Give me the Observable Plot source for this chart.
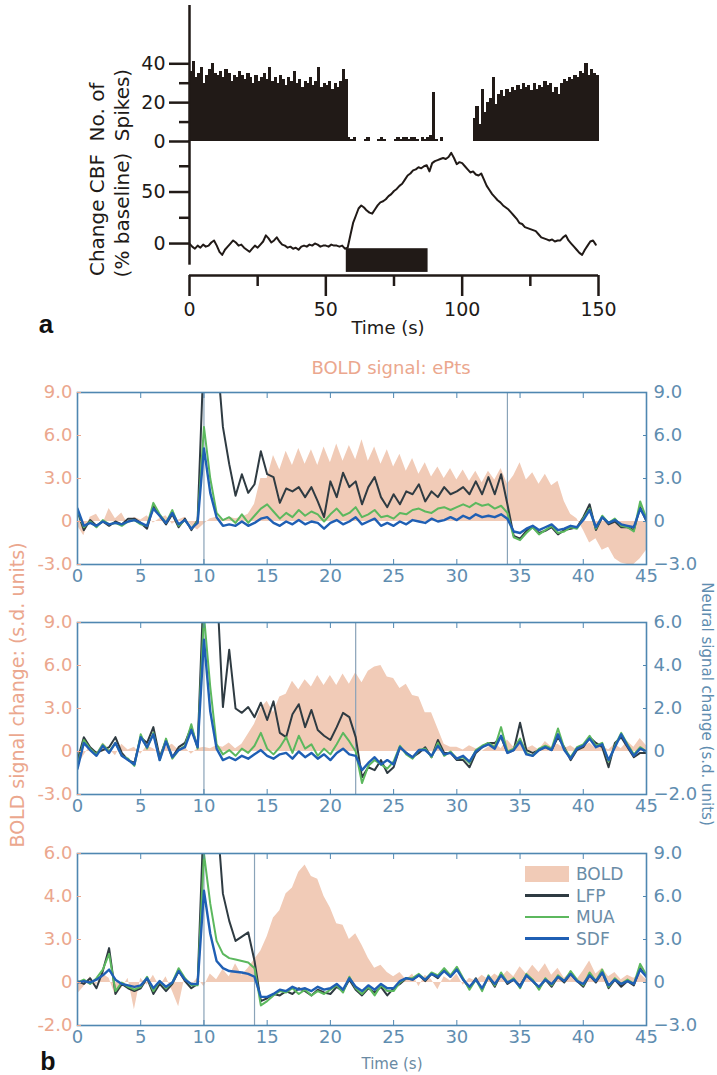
<!DOCTYPE html>
<html><head><meta charset="utf-8">
<script src="https://cdn.jsdelivr.net/npm/d3@7"></script>
<script src="https://cdn.jsdelivr.net/npm/@observablehq/plot@0.6"></script>
<style>
body{margin:0;background:#fff;}
#fig{position:relative;width:717px;height:1075px;overflow:hidden;font-family:"DejaVu Sans",sans-serif;background:#fff;}
.lbl{position:absolute;white-space:nowrap;line-height:1;}
</style></head><body><div id="fig"></div>
<script>
// ---------------- Panel a data ----------------
const spikeTimes0 = 0;            // first 1-s bin start (s)
const spikeCounts = [
36,41,33,35,38,30,34,37,40,35, 34,36,33,37,35,31,34,33,36,34,
32,35,33,30,34,31,33,35,32,38, 31,33,30,34,32,29,33,31,36,30,
32,28,31,30,33,29,31,38,28,30, 29,31,27,30,28,31,37,32,2,1,
2,0,0,0,1,2,0,0,0,1, 2,1,0,0,0,1,2,1,2,2,
1,2,2,1,0,2,1,2,3,25, 1,0,2,0,0,0,0,0,0,0,
0,0,0,0,12,18,9,27,15,20, 22,33,19,24,26,23,27,25,28,26,
29,27,30,28,29,26,30,27,29,28, 31,29,30,25,28,24,30,32,31,33,
32,34,33,36,35,40,34,37,35,34];
const cbf = [
0,-3,-5,-2,-4,-1,-3,-2,1,3, -2,-8,-11,-6,-3,0,3,1,-2,-1,
-4,-6,-8,-5,-2,-4,-1,2,8,5, 1,3,6,2,-1,-2,-4,-3,-5,-4,
-6,-3,-2,-3,-1,-2,0,-1,-3,-2, -2,-3,-1,-2,-2,-3,-2,-5,-4,8,
20,27,34,37,35,32,30,29,33,37, 40,41,43,46,48,51,53,56,58,62,
66,68,71,72,74,73,75,76,70,78, 80,81,82,83,82,84,88,83,77,79,
78,75,72,69,70,67,66,68,62,56, 52,48,45,42,40,37,35,33,30,27,
24,20,19,16,15,14,13,12,9,6, 5,4,3,4,2,3,3,6,8,3,
0,-3,-6,-9,-11,-6,-2,2,3,-1];
const stimulusA = [{start: 57.5, end: 87.5}];
const spikeTicks = [0, 20, 40], spikeMinor = [10, 30];
const cbfTicks = [0, 50], cbfMinor = [25, 75];
const timeTicksA = [0, 50, 100, 150], timeMinorA = [25, 75, 125];

// ---------------- Panel b data (0.5 s steps, 0..45 s) ----------------
const stepB = 0.5;
const bold1 = [
-0.3,-1.0,0.3,0.5,-0.2,0.9,0.2,0.6,-0.2,0.3,
0.1,0.4,-0.1,0.2,0.4,-0.2,0.1,0.3,-0.3,-0.6,
-0.2,0.2,0.3,0.1,0.3,0.2,0.3,0.5,1.2,3.0,
3.0,4.6,3.6,4.9,3.9,5.1,4.0,5.0,3.9,5.2,
4.1,5.4,4.2,5.3,4.3,5.7,4.2,5.2,4.0,5.0,
3.8,4.7,3.5,4.4,3.3,4.1,3.1,3.8,3.0,3.7,
2.9,3.6,2.8,3.5,2.7,3.5,2.9,3.7,2.6,3.2,
4.1,2.9,3.4,2.6,3.3,2.5,2.8,1.4,0.5,0.2,
-0.6,-1.5,-1.2,-2.0,-1.8,-2.6,-2.9,-3.0,-3.0,-2.6,
-2.0];
const lfp1 = [
0.7,-0.6,0.1,-0.3,0.0,-0.3,0.0,-0.2,0.2,0.2,
-0.1,-0.5,1.1,0.4,-0.2,0.5,-0.4,0.2,-0.6,0.1,
12,12,12,6.6,4.0,1.8,3.3,2.0,2.6,4.9,
3.3,3.1,1.3,2.3,2.1,2.4,1.7,2.4,1.4,0.3,
2.8,1.7,3.4,2.4,2.8,1.2,2.4,3.1,1.7,1.0,
1.9,1.2,2.1,1.9,2.6,1.4,2.1,1.7,2.4,1.9,
2.1,2.4,1.9,2.8,1.9,3.1,1.9,3.3,1.2,-1.0,
-1.2,-0.65,-0.4,-0.8,-0.65,-0.4,-0.9,-0.6,-0.5,-0.4,
0.3,1.2,-0.6,0.3,-0.2,0.0,-0.4,-0.4,-0.6,1.0,
0.0];
const mua1 = [
0.8,-0.4,0.0,-0.4,0.1,-0.2,-0.1,-0.3,0.0,0.1,
-0.2,-0.3,1.3,0.5,-0.1,0.8,-0.3,0.1,-0.5,0.0,
6.6,3.0,0.6,0.1,0.3,-0.1,0.5,-0.1,0.4,0.9,
1.2,0.7,0.2,0.6,0.3,0.8,0.4,0.7,0.5,0.0,
0.5,0.9,0.4,0.6,1.0,0.3,0.5,0.8,0.3,0.4,
0.2,0.6,0.5,0.8,0.9,0.7,0.6,0.9,1.0,0.8,
1.0,1.2,1.0,1.3,1.1,1.2,0.9,1.1,0.6,-1.1,
-1.3,-0.8,-0.4,-0.9,-0.6,-0.3,-0.8,-0.7,-0.4,-0.5,
0.2,0.9,-0.5,0.4,-0.1,0.2,-0.3,-0.4,-0.7,1.4,
0.2];
const sdf1 = [
0.9,-0.3,-0.1,-0.3,0.0,-0.2,-0.1,-0.2,0.0,0.1,
-0.1,-0.3,0.9,0.4,-0.1,0.6,-0.2,0.1,-0.5,-0.1,
5.1,2.0,0.3,-0.3,-0.2,-0.3,0.0,-0.3,-0.1,0.2,
0.3,-0.1,-0.3,0.0,-0.2,0.1,-0.2,0.0,-0.1,-0.5,
-0.1,0.1,-0.2,0.0,0.3,-0.2,0.0,0.2,-0.3,-0.1,
-0.3,0.0,-0.2,0.1,0.0,-0.1,0.2,0.0,0.1,0.3,
0.1,0.4,0.2,0.5,0.3,0.4,0.3,0.5,0.2,-0.7,
-0.8,-0.5,-0.3,-0.6,-0.4,-0.2,-0.6,-0.5,-0.3,-0.4,
0.1,0.8,-0.4,0.3,-0.1,0.1,-0.2,-0.3,-0.4,0.9,
0.1];

const bold2 = [
-1.0,-0.3,0.4,-0.2,0.6,0.2,-0.3,0.5,0.1,0.3,
-0.2,0.4,0.2,-0.1,0.3,0.5,0.1,0.3,-0.2,0.2,
0.3,0.2,0.4,0.3,0.6,0.2,0.5,1.2,1.9,3.0,
3.5,2.7,3.8,4.0,4.9,4.3,5.0,4.5,5.3,4.6,
5.3,4.6,5.4,4.7,5.5,4.8,5.6,5.9,6.0,5.2,
5.1,4.4,4.7,3.9,3.8,2.7,2.7,1.6,0.5,0.3,
0.3,0.1,0.4,0.2,0.0,0.3,0.6,0.2,0.8,0.3,
0.9,0.2,0.4,0.1,0.7,0.3,0.5,0.2,0.4,0.1,
0.3,0.6,0.2,0.4,0.1,0.5,0.2,0.7,0.3,0.9,
0.4];
const lfp2 = [
-0.6,1.0,0.3,-0.1,0.1,0.3,1.0,-0.1,-0.6,-0.8,
1.0,0.6,1.7,-0.4,0.8,-0.4,0.3,0.6,1.7,0.3,
12,12,12,3.1,7.1,3.0,2.7,3.1,2.4,3.4,
2.2,3.5,1.3,1.0,2.6,3.3,1.7,2.9,1.5,1.1,
0.8,1.7,2.7,2.4,1.0,-1.8,-1.1,-1.3,-0.6,-1.5,
-1.1,0.3,-0.1,-0.4,-0.1,0.3,-0.4,0.8,-0.1,-0.1,
-0.6,-0.6,-1.1,-0.1,0.3,0.6,0.6,1.0,-0.1,0.1,
2.0,0.1,-0.1,0.1,0.3,0.1,1.0,0.3,-0.6,0.1,
0.3,1.0,0.6,0.3,-1.1,0.6,1.0,0.3,-0.4,-0.1,
-0.1];
const mua2 = [
-1.0,0.8,0.2,-0.2,0.5,0.0,0.6,-0.3,-0.5,-1.0,
1.2,0.2,1.3,-0.6,0.9,-0.5,0.1,0.4,1.9,0.2,
9.5,4.5,0.5,-0.2,0.1,-0.3,0.2,-0.1,0.4,1.3,
0.2,-0.2,0.3,1.0,-0.1,1.1,0.2,0.5,-0.3,0.2,
-0.2,0.5,1.3,0.7,0.0,-2.2,-1.0,-0.6,-0.9,-1.2,
-0.7,0.4,-0.2,-0.5,0.1,0.2,-0.4,0.6,-0.3,0.0,
-0.5,-0.4,-0.8,0.1,0.4,0.6,0.3,1.7,0.0,0.2,
0.9,-0.1,-0.3,0.2,0.4,0.2,1.6,0.2,-0.4,0.3,
0.5,1.1,0.4,0.6,-0.7,0.4,1.3,0.5,-0.2,0.3,
0.0];
const sdf2 = [
-1.2,0.6,0.1,-0.3,0.4,-0.1,0.6,-0.3,-0.6,-0.9,
1.0,0.3,1.2,-0.6,0.7,-0.4,0.1,0.3,1.5,0.3,
7.8,2.8,0.2,-0.6,-0.4,-0.6,-0.3,-0.5,-0.2,0.1,
-0.3,-0.5,-0.2,-0.1,-0.5,0.0,-0.4,-0.1,-0.5,-0.2,
-0.6,-0.1,0.2,-0.2,-0.3,-1.3,-0.8,-0.4,-0.9,-0.6,
-0.9,0.3,-0.1,-0.4,0.1,0.1,-0.3,0.4,-0.2,-0.1,
-0.5,-0.3,-0.7,0.0,0.3,0.5,0.2,1.1,-0.1,0.1,
0.7,-0.2,-0.3,0.1,0.3,0.1,1.2,0.1,-0.5,0.2,
0.4,0.9,0.3,0.5,-0.6,0.3,1.2,0.4,-0.3,0.2,
0.0];

const bold3 = [
-0.8,-0.3,0.4,-0.2,0.6,0.3,-0.9,-0.4,0.3,-1.9,
0.3,-0.2,0.5,-0.3,0.4,-0.6,-1.7,0.4,-0.2,0.3,
-0.3,0.6,0.2,0.9,0.4,1.3,0.5,1.0,1.6,2.2,
3.2,4.5,5.0,6.2,6.6,7.7,8.2,7.4,7.2,6.0,
5.2,4.1,4.0,3.0,3.4,2.6,1.7,1.0,1.2,0.7,
0.4,0.7,0.2,0.6,-0.3,0.5,0.2,-0.5,0.4,0.1,
0.6,-0.2,0.3,0.1,0.5,0.2,0.6,0.3,0.8,0.4,
1.1,0.6,1.2,0.7,1.3,0.5,1.0,0.3,0.7,0.2,
0.8,1.5,0.6,1.0,0.4,0.7,0.2,0.5,0.3,0.6,
0.2];
const lfp3 = [
0.1,-0.1,0.3,-0.4,0.8,2.4,-0.8,-0.1,-0.4,-0.6,
-0.4,0.3,-0.8,-0.1,-0.6,-0.1,0.8,0.1,-0.4,-0.1,
12,12,12,6.2,4.3,2.9,3.2,3.5,1.5,-1.3,
-1.1,-0.8,-0.9,-0.6,-0.8,-0.4,-0.6,-0.9,-0.5,-0.7,
-0.8,-0.3,-0.6,0.2,-0.5,-0.9,-0.4,-0.7,-0.3,-0.9,
-0.4,-0.1,0.3,0.2,0.5,0.1,0.6,0.3,0.9,0.4,
1.0,0.2,-0.4,0.3,-0.5,0.4,-0.3,0.6,-0.1,0.2,
-0.2,0.5,0.1,-0.4,0.2,-0.3,0.4,0.0,0.6,0.1,
-0.3,0.5,0.0,0.7,-0.4,0.2,-0.3,0.1,-0.2,1.0,
0.4];
const mua3 = [
0.0,0.2,-0.1,0.3,0.9,2.0,-0.6,0.0,-0.3,-0.5,
-0.3,0.4,-0.6,0.1,-0.4,0.0,1.0,0.3,-0.2,-0.2,
9.0,5.5,2.9,2.0,1.7,1.6,1.5,1.4,1.0,-1.6,
-1.3,-0.9,-0.6,-0.7,-0.4,-0.8,-0.5,-0.9,-0.6,-0.8,
-0.5,-0.2,-0.7,0.4,-0.4,-0.8,-0.3,-0.9,-0.2,-0.6,
-0.6,0.0,0.3,0.3,0.6,0.2,0.7,0.5,1.0,0.5,
1.1,0.3,-0.5,0.2,-0.6,0.5,-0.2,0.7,0.0,0.3,
-0.4,0.6,0.2,-0.5,0.3,-0.2,0.5,0.1,0.8,0.2,
-0.2,0.7,0.1,0.9,-0.3,0.3,-0.1,0.2,-0.1,1.3,
0.5];
const sdf3 = [
0.0,0.1,0.0,0.2,0.5,0.9,0.2,-0.1,-0.2,-0.3,
-0.2,0.3,-0.4,0.1,-0.3,0.0,0.8,0.2,-0.1,-0.1,
6.4,3.4,1.5,1.0,0.8,0.75,0.7,0.6,0.4,-1.0,
-1.0,-0.8,-0.5,-0.6,-0.3,-0.5,-0.4,-0.6,-0.3,-0.5,
-0.4,-0.1,-0.5,0.3,-0.3,-0.6,-0.2,-0.5,-0.1,-0.4,
-0.4,0.1,0.3,0.2,0.5,0.2,0.6,0.4,0.8,0.4,
0.9,0.2,-0.3,0.2,-0.4,0.4,-0.1,0.5,0.0,0.2,
-0.3,0.5,0.1,-0.3,0.2,-0.1,0.4,0.1,0.6,0.1,
-0.1,0.5,0.1,0.7,-0.2,0.2,-0.1,0.1,-0.1,0.9,
0.4];

const stimOnset = 10;
const stimEnds = [34, 22, 14];
const xTicksB = [0,5,10,15,20,25,30,35,40,45];
const yTicksB = [-3, 0, 3, 6, 9];
const leftLabels = [
  ["-3.0","0","3.0","6.0","9.0"],
  ["-3.0","0","3.0","6.0","9.0"],
  ["-2.0","0","3.0","4.0","6.0"]];
const rightLabels = [
  ["\u22123.0","0","3.0","6.0","9.0"],
  ["\u22122.0","0","2.0","4.0","6.0"],
  ["\u22123.0","0","3.0","6.0","9.0"]];
const legendItems = ["BOLD", "LFP", "MUA", "SDF"];

// ---------------- styles ----------------
const W = 717;
const INK = "#211a17";
const SALMON = "#eba78e";
const AX = "#4f87b1";
const AXT = "#5f8db0";
const BOLDFILL = "#f1cbb7";
const LFPC = "#2f3b42";
const MUAC = "#5cb85e";
const SDFC = "#1f5fb4";
const STIMC = "#8aa3b8";
const FONT = "DejaVu Sans, sans-serif";

const fig = document.getElementById("fig");
function place(el, top) {
  el.style.position = "absolute"; el.style.left = "0px"; el.style.top = top + "px";
  fig.appendChild(el);
}
function label(text, x, y, o) {
  const d = document.createElement("div");
  d.className = "lbl"; d.textContent = text;
  Object.assign(d.style, {
    left: x + "px", top: y + "px",
    transform: "translate(-50%,-50%)" + (o.rotate ? ` rotate(${o.rotate}deg)` : ""),
    fontSize: o.size + "px", color: o.color, fontWeight: o.weight || "normal",
    fontFamily: o.family || FONT
  });
  fig.appendChild(d);
}
const svgStyle = {background: "transparent", overflow: "visible", fontFamily: FONT};

// ---------------- Panel a: spikes ----------------
const spikeData = spikeCounts.map((n, i) => ({t: spikeTimes0 + i, n}));
const spikePlot = Plot.plot({
  width: W, height: 142, marginTop: 5, marginBottom: 1, marginLeft: 189, marginRight: 119,
  x: {domain: [0, 150], label: null, axis: null}, y: {domain: [0, 70], label: null},
  style: svgStyle,
  marks: [
    Plot.rectY(spikeData, {x1: "t", x2: d => d.t + 1, y: "n", fill: INK, insetRight: -0.6, shapeRendering: "crispEdges"}),
    Plot.ruleX([0], {y1: () => 0, y2: () => 70, stroke: INK, strokeWidth: 2.5}),
    Plot.axisY({ticks: spikeTicks, tickSize: 20, tickPadding: 4, fontSize: 19, strokeWidth: 2.5, color: INK}),
    Plot.axisY({ticks: spikeMinor, tickSize: 10, tickFormat: () => "", strokeWidth: 2.5, color: INK})
  ]
});
place(spikePlot, 0);

// ---------------- Panel a: CBF ----------------
const cbfData = cbf.map((v, i) => ({t: i, v}));
const cbfPlot = Plot.plot({
  width: W, height: 190, marginTop: 10, marginBottom: 45, marginLeft: 189, marginRight: 119,
  x: {domain: [0, 150], label: null}, y: {domain: [-31, 100], label: null},
  style: svgStyle,
  marks: [
    Plot.rect(stimulusA, {x1: "start", x2: "end", y1: () => -5, y2: () => -28, fill: INK}),
    Plot.line(cbfData, {x: "t", y: "v", stroke: INK, strokeWidth: 2}),
    Plot.ruleX([0], {y1: () => -21, y2: () => 100, stroke: INK, strokeWidth: 2.5}),
    Plot.ruleY([-31], {x1: () => 0, x2: () => 150, stroke: INK, strokeWidth: 2.5}),
    Plot.axisY({ticks: cbfTicks, tickSize: 20, tickPadding: 4, fontSize: 19, strokeWidth: 2.5, color: INK}),
    Plot.axisY({ticks: cbfMinor, tickSize: 10, tickFormat: () => "", strokeWidth: 2.5, color: INK}),
    Plot.axisX({ticks: timeTicksA, tickSize: 21, tickPadding: 6, fontSize: 19, strokeWidth: 2.5, color: INK}),
    Plot.axisX({ticks: timeMinorA, tickSize: 11, tickFormat: () => "", strokeWidth: 2.5, color: INK})
  ]
});
place(cbfPlot, 130);

label("No. of", 97, 112, {rotate: -90, size: 20, color: INK});
label("Spikes)", 122, 105, {rotate: -90, size: 20, color: INK});
label("Change CBF", 97, 215, {rotate: -90, size: 20, color: INK});
label("(% baseline)", 122, 215, {rotate: -90, size: 20, color: INK});
label("Time (s)", 388, 328, {size: 18, color: INK});
label("a", 46, 324, {size: 26, color: "#111", weight: "bold", family: "Liberation Sans, Arial, sans-serif"});

// ---------------- Panel b ----------------
const series = [[bold1, lfp1, mua1, sdf1], [bold2, lfp2, mua2, sdf2], [bold3, lfp3, mua3, sdf3]];
const frameTops = [392, 622, 853];
const frameH = 172;
series.forEach(([b, l, m, s], p) => {
  const rows = b.map((v, i) => ({t: i * stepB, bold: v, lfp: l[i], mua: m[i], sdf: s[i]}));
  const L = leftLabels[p], R = rightLabels[p];
  const chart = Plot.plot({
    width: W, height: 10 + frameH + 32, marginTop: 10, marginBottom: 32, marginLeft: 77, marginRight: 71,
    x: {domain: [0, 45], label: null}, y: {domain: [-3, 9], label: null},
    style: svgStyle,
    marks: [
      Plot.areaY(rows, {x: "t", y: "bold", fill: BOLDFILL, clip: true}),
      Plot.ruleX([stimOnset, stimEnds[p]], {stroke: STIMC, strokeWidth: 1.2}),
      Plot.line(rows, {x: "t", y: "lfp", stroke: LFPC, strokeWidth: 2, clip: true}),
      Plot.line(rows, {x: "t", y: "mua", stroke: MUAC, strokeWidth: 2, clip: true}),
      Plot.line(rows, {x: "t", y: "sdf", stroke: SDFC, strokeWidth: 2.4, clip: true}),
      Plot.frame({stroke: AX, strokeWidth: 1.6}),
      Plot.axisX({ticks: xTicksB, tickSize: 0, tickPadding: 5, fontSize: 18, color: AXT}),
      Plot.axisX({ticks: xTicksB, tickSize: -5, tickFormat: () => "", color: AX}),
      Plot.axisX({anchor: "top", ticks: xTicksB, tickSize: -5, tickFormat: () => "", color: AX}),
      Plot.axisY({ticks: yTicksB, tickSize: 0, tickPadding: 5, fontSize: 18, color: SALMON,
                  tickFormat: d => L[yTicksB.indexOf(d)]}),
      Plot.axisY({ticks: yTicksB, tickSize: -4, tickFormat: () => "", color: SALMON}),
      Plot.axisY({anchor: "right", ticks: yTicksB, tickSize: 0, tickPadding: 7, fontSize: 18, color: AXT,
                  tickFormat: d => R[yTicksB.indexOf(d)]}),
      Plot.axisY({anchor: "right", ticks: yTicksB, tickSize: -4, tickFormat: () => "", color: AX})
    ]
  });
  place(chart, frameTops[p] - 10);
});

label("BOLD signal: ePts", 391, 368, {size: 18, color: SALMON});
label("BOLD signal change: (s.d. units)", 17, 695, {rotate: -90, size: 19, color: SALMON});
label("Neural signal change (s.d. units)", 706, 704, {rotate: 90, size: 15, color: AXT});
label("Time (s)", 392, 1064, {size: 15, color: "#6a8aa3"});
label("b", 48, 1061, {size: 25, color: "#111", weight: "bold", family: "Liberation Sans, Arial, sans-serif"});

// legend (panel b, bottom chart)
const legendColors = [BOLDFILL, LFPC, MUAC, SDFC];
const legendY = [874, 895.5, 917, 938.5];
legendItems.forEach((name, i) => {
  const sw = document.createElement("div");
  const isArea = i === 0;
  Object.assign(sw.style, {
    position: "absolute", left: "525px", width: "44px",
    top: (legendY[i] - (isArea ? 8 : 1.25)) + "px",
    height: (isArea ? 16 : 2.5) + "px", background: legendColors[i]
  });
  fig.appendChild(sw);
  const t = document.createElement("div");
  t.className = "lbl"; t.textContent = name;
  Object.assign(t.style, {left: "576px", top: legendY[i] + "px", transform: "translateY(-50%)",
    fontSize: "17px", color: "#6a8ca6", fontFamily: FONT});
  fig.appendChild(t);
});
</script></body></html>
